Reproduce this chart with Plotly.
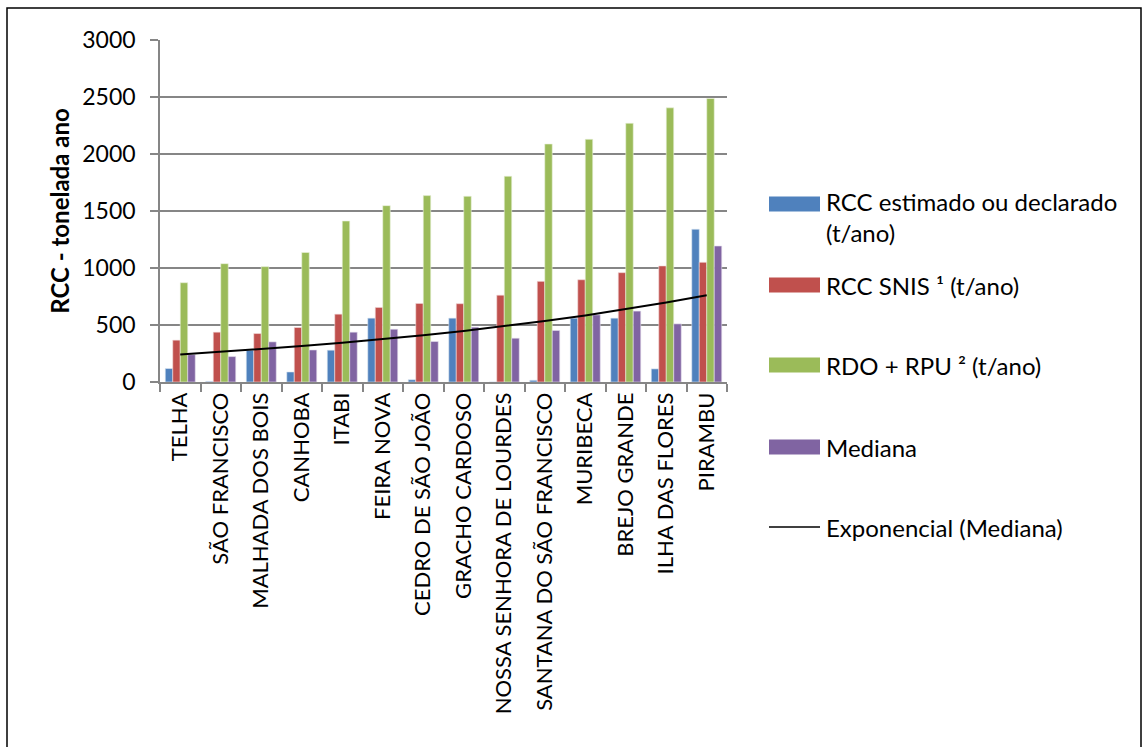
import numpy as np
import plotly.graph_objects as go

categories = ["TELHA", "SÃO FRANCISCO", "MALHADA DOS BOIS", "CANHOBA", "ITABI", "FEIRA NOVA",
              "CEDRO DE SÃO JOÃO", "GRACHO CARDOSO", "NOSSA SENHORA DE LOURDES",
              "SANTANA DO SÃO FRANCISCO", "MURIBECA", "BREJO GRANDE", "ILHA DAS FLORES", "PIRAMBU"]
rcc_estimado = [118, 5, 279, 88, 279, 560, 20, 560, 0, 15, 560, 560, 115, 1340]
rcc_snis = [367, 437, 425, 478, 595, 654, 689, 687, 762, 883, 897, 959, 1018, 1050]
rdo_rpu = [871, 1038, 1012, 1136, 1412, 1547, 1635, 1629, 1805, 2088, 2129, 2270, 2405, 2487]
mediana = [240, 223, 352, 281, 437, 463, 355, 481, 384, 452, 589, 622, 510, 1193]
y_ticks = [0, 500, 1000, 1500, 2000, 2500, 3000]
series_names = ["RCC estimado ou declarado<br>(t/ano)", "RCC SNIS ¹ (t/ano)", "RDO + RPU ² (t/ano)",
                "Mediana", "Exponencial (Mediana)"]
series_colors = ["#4F81BD", "#C0504D", "#9BBB59", "#8064A2", "black"]
edge_colors = ["#DCE6F1", "#F2DCDB", "#EBF1DE", "#E4DFEC"]

# Exponential trendline (least squares on ln y), like Excel
xi = np.arange(1, len(mediana) + 1)
b, a = np.polyfit(xi, np.log(mediana), 1)
trend = np.exp(a + b * xi)

FONT = "Lato"
fig = go.Figure()
for vals, nm, col, ec in zip([rcc_estimado, rcc_snis, rdo_rpu, mediana], series_names, series_colors, edge_colors):
    fig.add_trace(go.Bar(x=categories, y=vals, name=nm, showlegend=False,
                         marker=dict(color=col, line=dict(color=ec, width=0.6))))
fig.add_trace(go.Scatter(x=categories, y=trend, mode="lines", name=series_names[4], showlegend=False,
                         line=dict(color="black", width=2)))

L, R, T, B = 160, 417, 40, 365
W, H = 1144, 747
pw, ph = W - L - R, H - T - B

def px_x(p):
    return (p - L) / pw

def px_y(p):
    return (H - B - p) / ph

shapes = [dict(type="rect", xref="paper", yref="paper",
               x0=px_x(7), x1=px_x(1141), y0=px_y(760), y1=px_y(8),
               line=dict(color="black", width=1.5), fillcolor="rgba(0,0,0,0)", layer="below")]
annotations = []
leg_y = [204, 285, 365, 447, 527]
for i, (nm, col, yy) in enumerate(zip(series_names, series_colors, leg_y)):
    if i < 4:
        shapes.append(dict(type="rect", xref="paper", yref="paper",
                           x0=px_x(769), x1=px_x(820), y0=px_y(yy + 7.5), y1=px_y(yy - 7.5),
                           line=dict(width=0), fillcolor=col))
    else:
        shapes.append(dict(type="line", xref="paper", yref="paper",
                           x0=px_x(769), x1=px_x(820), y0=px_y(yy), y1=px_y(yy),
                           line=dict(color=col, width=1.5)))
    if i == 0:
        annotations.append(dict(text=nm, xref="paper", yref="paper", x=px_x(824), y=px_y(yy - 19),
                                xanchor="left", yanchor="top", align="left", showarrow=False,
                                font=dict(family=FONT, size=24, color="black")))
    else:
        annotations.append(dict(text=nm, xref="paper", yref="paper", x=px_x(824), y=px_y(yy),
                                xanchor="left", yanchor="middle", align="left", showarrow=False,
                                font=dict(family=FONT, size=24, color="black")))

fig.update_layout(
    width=W, height=H,
    margin=dict(l=L, r=R, t=T, b=B, autoexpand=False),
    paper_bgcolor="white", plot_bgcolor="white",
    font=dict(family=FONT, size=23, color="black"),
    barmode="group", bargap=0.26, bargroupgap=0,
    showlegend=False,
    xaxis=dict(type="category", showline=True, linecolor="#868686", linewidth=1.5,
               ticks="outside", tickson="boundaries", ticklen=8, tickcolor="#868686", tickwidth=1.5,
               tickangle=-90, tickfont=dict(family=FONT, size=22, color="black"),
               showgrid=False, range=[-0.5, len(categories) - 0.5]),
    yaxis=dict(range=[0, 3000], tickvals=y_ticks, ticktext=[str(v) for v in y_ticks],
               showline=True, linecolor="#868686", linewidth=1.5,
               ticks="outside", ticklen=8, tickcolor="#868686", tickwidth=1.5,
               ticklabelstandoff=10,
               showgrid=True, gridcolor="#868686", gridwidth=1.5, zeroline=False,
               tickfont=dict(family=FONT, size=23, color="black"),
               title=dict(text="<b>RCC - tonelada ano</b>", font=dict(family=FONT, size=24), standoff=6)),
    shapes=shapes,
    annotations=annotations,
)

fig.write_html("out.html", config={"displayModeBar": False},
               post_script="document.body.style.margin='0';")
